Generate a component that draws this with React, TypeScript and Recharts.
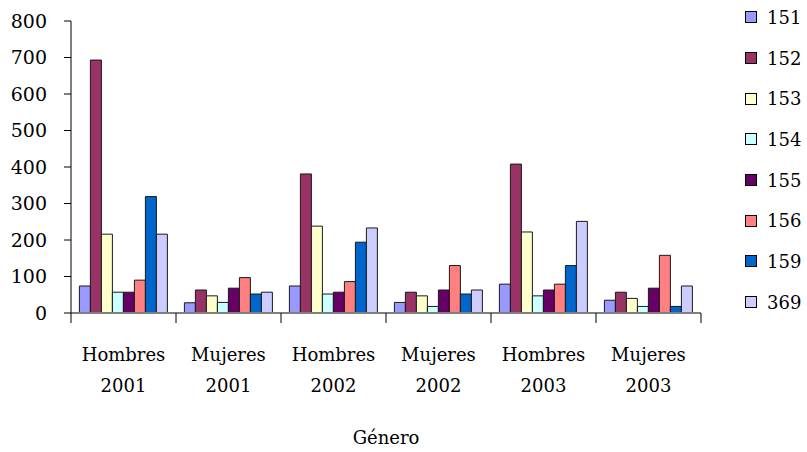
import { Bar, BarChart, XAxis, YAxis, Label } from "recharts";

const categories = ["Hombres 2001", "Mujeres 2001", "Hombres 2002", "Mujeres 2002", "Hombres 2003", "Mujeres 2003"];
const s151 = [74, 28, 74, 29, 79, 35];
const s152 = [693, 63, 381, 57, 408, 57];
const s153 = [216, 47, 238, 47, 222, 40];
const s154 = [57, 29, 52, 18, 47, 18];
const s155 = [57, 68, 57, 63, 63, 68];
const s156 = [90, 97, 86, 130, 79, 158];
const s159 = [319, 52, 194, 52, 130, 18];
const s369 = [216, 57, 233, 63, 251, 74];
const yTicks = [0, 100, 200, 300, 400, 500, 600, 700, 800];

const series = [
  { key: "151", values: s151, color: "#9999FF" },
  { key: "152", values: s152, color: "#993366" },
  { key: "153", values: s153, color: "#FFFFCC" },
  { key: "154", values: s154, color: "#CCFFFF" },
  { key: "155", values: s155, color: "#660066" },
  { key: "156", values: s156, color: "#FF8080" },
  { key: "159", values: s159, color: "#0066CC" },
  { key: "369", values: s369, color: "#CCCCFF" },
];

const data = categories.map((c, i) => {
  const row: Record<string, string | number> = { name: c };
  series.forEach((s) => (row[s.key] = s.values[i]));
  return row;
});

const FONT = "'DejaVu Serif', serif";
const PLOT_W = 630;
const BAND = PLOT_W / categories.length;

function CatTick(props: any) {
  const { x, y, payload, index } = props;
  const [a, b] = String(payload.value).split(" ");
  return (
    <g>
      <line x1={x - BAND / 2} x2={x - BAND / 2} y1={y} y2={y + 10} stroke="#000" />
      {index === categories.length - 1 && (
        <line x1={x + BAND / 2} x2={x + BAND / 2} y1={y} y2={y + 10} stroke="#000" />
      )}
      <text x={x} y={y + 48} textAnchor="middle" fontSize={18} fontFamily={FONT} fill="#000">
        {a}
      </text>
      <text x={x} y={y + 79} textAnchor="middle" fontSize={18} fontFamily={FONT} fill="#000">
        {b}
      </text>
    </g>
  );
}

function LegendBox() {
  return (
    <div style={{ position: "absolute", left: 745, top: -3, fontFamily: FONT, fontSize: 18 }}>
      {series.map((s) => (
        <div key={s.key} style={{ display: "flex", alignItems: "center", height: 40.7 }}>
          <span
            style={{ width: 10, height: 10, background: s.color, border: "1px solid #000", marginRight: 10 }}
          />
          <span>{s.key}</span>
        </div>
      ))}
    </div>
  );
}

export default function App() {
  return (
    <div style={{ position: "absolute", left: 0, top: 0, width: 807, height: 452, background: "#fff" }}>
      <BarChart
        width={807}
        height={452}
        data={data}
        margin={{ top: 21, right: 106, bottom: 0, left: 0 }}
        barCategoryGap="8%"
        barGap={0}
      >
        <XAxis
          dataKey="name"
          height={139}
          tick={<CatTick />}
          tickLine={false}
          tickSize={0}
          tickMargin={0}
          interval={0}
          axisLine={{ stroke: "#808080", strokeWidth: 2 }}
        >
          <Label value="Género" position="insideBottom" offset={8} fontSize={18} fontFamily={FONT} fill="#000" />
        </XAxis>
        <YAxis
          width={71}
          domain={[0, 800]}
          ticks={yTicks}
          interval={0}
          tickSize={7}
          tickMargin={17}
          axisLine={{ stroke: "#000" }}
          tickLine={{ stroke: "#000" }}
          tick={{ fontSize: 19, fontFamily: FONT, fill: "#000" }}
        />
        {series.map((s) => (
          <Bar
            key={s.key}
            dataKey={s.key}
            fill={s.color}
            stroke="#1a1a1a"
            strokeWidth={1}
            isAnimationActive={false}
          />
        ))}
      </BarChart>
      <LegendBox />
    </div>
  );
}
